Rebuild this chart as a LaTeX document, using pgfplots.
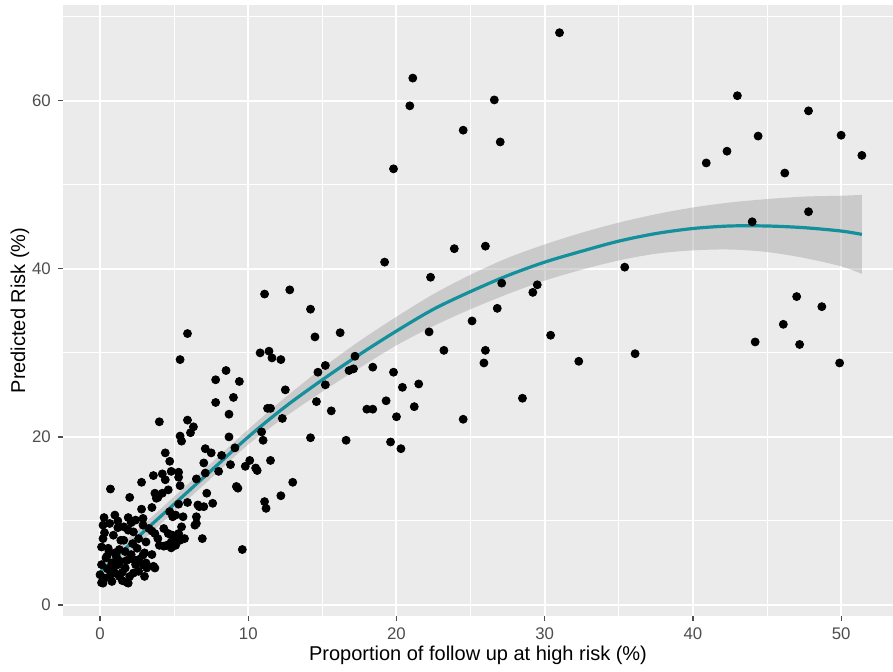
\documentclass[border=0pt]{standalone}
\usepackage{fontspec}
\setmainfont{Liberation Sans}
\usepackage{pgfplots}
\pgfplotsset{compat=1.18}
\usepgfplotslibrary{fillbetween}
\definecolor{ggbg}{HTML}{EBEBEB}
\definecolor{ggtick}{HTML}{4D4D4D}
\definecolor{ggteal}{HTML}{13909C}
\definecolor{ggband}{HTML}{999999}

\begin{document}
\begin{tikzpicture}
\begin{axis}[
  scale only axis,
  width=415pt, height=305.5pt,
  xmin=-2.5, xmax=53.5, ymin=-1.31, ymax=71.4,
  xtick={0,10,20,30,40,50}, ytick={0,20,40,60},
  minor xtick={5,15,25,35,45}, minor ytick={10,30,50,70},
  grid=both,
  major grid style={white, line width=1pt},
  minor grid style={white, line width=0.5pt},
  axis background/.style={fill=ggbg},
  axis line style={draw=none},
  tick align=outside, xtick pos=bottom, ytick pos=left,
  major tick length=2.6pt, minor tick length=0pt,
  tick style={color=ggtick, line width=0.6pt},
  /pgf/number format/assume math mode=true,
  ticklabel style={font=\fontsize{8.4}{10}\selectfont, text=ggtick},
  xlabel={Proportion of follow up at high risk (\%)},
  ylabel={Predicted Risk (\%)},
  label style={font=\fontsize{10.4}{12}\selectfont},
  every axis x label/.style={at={(axis description cs:0.5,0)}, yshift=-19.5pt, anchor=center},
  every axis y label/.style={at={(axis description cs:0,0.5)}, xshift=-21.5pt, rotate=90, anchor=center},
]
% observations
\addplot[only marks, mark=*, mark size=2pt, black] table {
x y
21.1 62.7
20.9 59.4
26.6 60.1
24.5 56.5
27.0 55.1
19.8 51.9
31.0 68.1
19.2 40.8
23.9 42.4
26.0 42.7
22.3 39.0
35.4 40.2
27.1 38.3
29.5 38.1
29.2 37.2
26.8 35.3
25.1 33.8
22.2 32.5
30.4 32.1
23.2 30.3
26.0 30.3
25.9 28.8
32.3 29.0
19.8 27.7
20.4 25.9
21.5 26.3
19.3 24.3
21.2 23.6
20.0 22.4
28.5 24.6
24.5 22.1
19.6 19.4
20.3 18.6
43.0 60.6
47.8 58.8
44.4 55.8
50.0 55.9
42.3 54.0
51.4 53.5
40.9 52.6
46.2 51.4
47.8 46.8
44.0 45.6
47.0 36.7
48.7 35.5
46.1 33.4
44.2 31.3
47.2 31.0
36.1 29.9
49.9 28.8
14.2 35.2
5.9 32.3
14.5 31.9
16.2 32.4
5.4 29.2
10.8 30.0
11.4 30.2
11.6 29.4
12.2 29.2
8.5 27.9
7.8 26.8
9.4 26.6
15.2 28.5
14.7 27.7
16.8 27.9
15.2 26.2
12.5 25.6
7.8 24.1
9.0 24.7
14.6 24.2
8.7 22.7
11.3 23.4
11.5 23.4
12.3 22.2
15.6 23.1
4.0 21.8
5.9 22.0
6.3 21.2
6.1 20.5
5.4 20.1
5.5 19.5
8.7 20.0
10.9 20.6
11.0 19.6
14.2 19.9
16.6 19.6
4.4 18.1
7.1 18.6
7.5 18.1
4.7 17.1
8.2 17.8
9.1 18.7
7.0 16.9
8.8 16.7
9.8 16.5
10.1 17.2
10.5 16.3
10.6 16.0
11.5 17.2
3.6 15.4
4.2 15.6
4.8 15.9
5.3 15.8
4.4 14.9
5.3 15.2
7.1 15.7
8.0 15.9
13.0 14.6
6.5 15.0
9.2 14.1
9.3 13.9
5.4 14.2
4.6 13.7
3.7 13.3
3.9 12.8
7.2 13.3
12.2 13.0
11.1 12.3
11.2 11.5
5.9 12.2
5.3 12.0
6.7 11.7
7.0 11.7
7.6 12.1
4.7 11.1
5.1 10.7
5.6 10.5
6.5 10.5
11.1 37.0
12.8 37.5
17.2 29.6
17.1 28.1
18.4 28.3
18.0 23.3
18.4 23.3
0.7 13.8
2.8 14.6
2.0 12.8
2.8 11.4
3.5 11.6
4.2 13.3
3.8 12.7
0.27 10.4
1.0 10.7
1.2 10.0
0.65 9.7
1.9 10.4
2.1 9.8
2.9 10.3
2.4 10.1
1.9 8.9
1.4 7.7
0.2 7.9
0.1 6.9
0.55 6.75
2.6 7.9
3.1 7.5
3.9 7.9
4.0 7.1
3.5 6.0
3.0 6.2
2.6 5.4
3.1 5.0
3.6 4.6
2.6 4.0
2.0 3.4
1.3 3.4
0.8 2.8
0.2 2.6
0.0 3.6
0.1 4.8
0.4 5.6
1.1 5.75
1.7 6.35
0.9 4.4
1.7 4.4
1.9 2.6
4.9 10.5
6.6 11.9
6.4 9.5
5.5 9.3
1.6 9.3
2.25 8.7
2.9 9.5
3.3 9.1
3.5 8.8
3.7 8.5
4.3 9.1
6.5 9.7
4.9 8.3
5.2 7.9
5.4 7.7
4.8 7.5
5.1 7.1
6.9 7.9
9.6 6.6
4.5 7.1
4.3 7.0
4.8 6.8
5.7 7.9
5.1 8.1
4.6 8.5
5.3 8.5
0.45 5.75
1.35 5.2
2.25 5.4
2.5 6.75
2.9 5.95
2.9 4.8
0.7 3.6
1.0 3.8
2.25 3.8
3.0 3.4
2.4 4.8
3.15 4.4
3.7 4.4
1.8 2.7
0.1 2.65
1.0 6.2
1.6 7.7
0.3 3.2
0.5 4.3
0.8 5.0
1.2 4.8
1.5 3.9
0.6 6.3
1.3 6.6
2.1 6.0
1.8 5.3
0.3 8.6
0.9 8.3
1.2 9.2
2.2 7.3
0.2 9.5
1.5 2.9
};
% confidence band
\addplot[name path=upper, draw=none, smooth] coordinates {
(0,5.0) (2.5,8.9) (5,12.9) (7.5,16.9) (10,20.9) (12.5,24.7) (15,28.2)
(17.5,31.4) (20,34.3) (22.5,37.0) (25,39.3) (27.5,41.3) (30,42.9)
(32.5,44.3) (35,45.5) (37.5,46.5) (40,47.3) (42.5,47.9) (45,48.3)
(47.5,48.6) (50,48.7) (51.4,48.8)
};
\addplot[name path=lower, draw=none, smooth] coordinates {
(0,2.8) (2.5,7.1) (5,11.1) (7.5,15.1) (10,19.1) (12.5,22.4) (15,25.4)
(17.5,28.2) (20,30.9) (22.5,33.2) (25,35.2) (27.5,37.0) (30,38.6)
(32.5,39.9) (35,41.0) (37.5,41.8) (40,42.2) (42.5,42.3) (45,42.0)
(47.5,41.3) (50,40.3) (51.4,39.4)
};
\addplot[draw=none, fill=ggband, fill opacity=0.4] fill between[of=upper and lower];
% smooth fit
\addplot[ggteal, line width=1.6pt, smooth] coordinates {
(0,3.9) (2.5,8.0) (5,12.0) (7.5,16.0) (10,20.0) (12.5,23.6) (15,26.8)
(17.5,29.8) (20,32.6) (22.5,35.2) (25,37.3) (27.5,39.2) (30,40.8)
(32.5,42.1) (35,43.3) (37.5,44.2) (40,44.8) (42.5,45.1) (45,45.1)
(47.5,44.9) (50,44.5) (51.4,44.1)
};
\end{axis}
\pgfresetboundingbox
\useasboundingbox (-31.5pt,-28pt) rectangle (415pt,308pt);
\end{tikzpicture}
\end{document}
